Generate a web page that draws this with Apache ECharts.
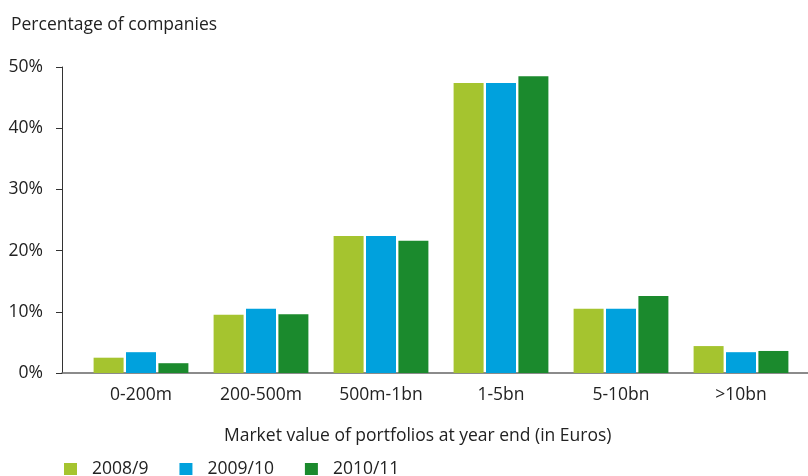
<!DOCTYPE html>
<html>
<head>
<meta charset="utf-8">
<script src="https://cdn.jsdelivr.net/npm/echarts@6/dist/echarts.min.js"></script>
<style>
  html, body { margin: 0; padding: 0; background: #fff; }
  #chart { width: 808px; height: 476px; }
</style>
</head>
<body>
<div id="chart"></div>
<script>
const categories = ['0-200m', '200-500m', '500m-1bn', '1-5bn', '5-10bn', '>10bn']
const seriesNames = ['2008/9', '2009/10', '2010/11']
const values2008 = [2.5, 9.5, 22.4, 47.4, 10.5, 4.4]
const values2009 = [3.4, 10.5, 22.4, 47.4, 10.5, 3.4]
const values2010 = [1.6, 9.6, 21.6, 48.5, 12.6, 3.6]
const colors = ['#a5c42f', '#00a1dd', '#1b8a2d']

const font = 'Open Sans'
const fs = 17.5
const chart = echarts.init(document.getElementById('chart'))

const makeSeries = (name, data, i) => ({
  name,
  type: 'bar',
  xAxisIndex: 1,
  yAxisIndex: 1,
  data,
  barWidth: 30,
  barGap: '8%',
  itemStyle: { color: colors[i] }
})

chart.setOption({
  animation: false,
  textStyle: { fontFamily: font },
  title: [
    {
      text: 'Percentage of companies',
      left: 6, top: 11,
      textStyle: { fontSize: fs, fontWeight: 'normal', color: '#222', fontFamily: font }
    },
    {
      text: 'Market value of portfolios at year end (in Euros)',
      left: 219, top: 422,
      textStyle: { fontSize: fs, fontWeight: 'normal', color: '#222', fontFamily: font }
    }
  ],
  legend: {
    left: 59, top: 455,
    itemWidth: 13, itemHeight: 12,
    itemGap: 31,
    icon: 'rect',
    textStyle: { fontSize: fs, color: '#222', fontFamily: font, padding: [0, 0, 0, 10] },
    data: seriesNames
  },
  grid: [
    { left: 62, right: 0, top: 67, bottom: 103 },
    { left: 81, right: 7, top: 67, bottom: 103 }
  ],
  xAxis: [
    {
      type: 'value', gridIndex: 0, min: 0, max: 1,
      axisLine: { show: true, onZero: false, lineStyle: { color: '#666', width: 1.5 } },
      axisTick: { show: false }, axisLabel: { show: false }, splitLine: { show: false }
    },
    {
      type: 'category', gridIndex: 1, data: categories,
      axisLine: { show: false }, axisTick: { show: false },
      axisLabel: { color: '#222', fontSize: fs, margin: 13, fontFamily: font }
    }
  ],
  yAxis: [
    {
      type: 'value', gridIndex: 0, min: 0, max: 50, interval: 10,
      axisLine: { show: true, lineStyle: { color: '#333' } },
      axisTick: { show: true, length: 6, lineStyle: { color: '#333' } },
      axisLabel: { color: '#222', fontSize: fs, margin: 19, formatter: '{value}%', fontFamily: font },
      splitLine: { show: false }
    },
    {
      type: 'value', gridIndex: 1, min: 0, max: 50, show: false,
      splitLine: { show: false }
    }
  ],
  series: [
    makeSeries(seriesNames[0], values2008, 0),
    makeSeries(seriesNames[1], values2009, 1),
    makeSeries(seriesNames[2], values2010, 2)
  ]
})
</script>
</body>
</html>
